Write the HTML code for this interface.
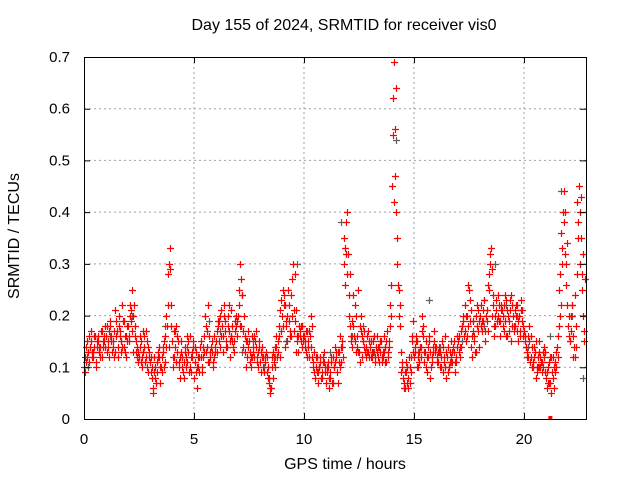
<!DOCTYPE html>
<html><head><meta charset="utf-8"><style>
html,body{margin:0;padding:0;background:#fff}
svg{display:block;font-family:"Liberation Sans",sans-serif}
</style></head><body>
<svg id="chart" width="640" height="480" viewBox="0 0 640 480"></svg>
<script>
const T0 = 0.0, STEP = 0.1;
const T0B = 0.05, T0C = 0.025, T0D = 0.075;
const seriesA = [
.10,.14,.13,.15,.12,.16,.14,.13,.17,.15,
.16,.14,.18,.15,.13,.17,.20,.15,.14,.16,
.18,.22,.25,.16,.14,.12,.15,.13,.17,.14,
.11,.08,.12,.09,.14,.10,.13,.16,.28,.33,
.15,.12,.18,.10,.13,.09,.14,.11,.16,.12,
.08,.13,.10,.15,.12,.20,.14,.11,.13,.16,
.15,.18,.20,.16,.19,.14,.17,.21,.15,.18,
.20,.30,.24,.16,.12,.15,.10,.14,.17,.13,
.11,.14,.09,.12,.07,.06,.13,.10,.15,.12,
.20,.24,.18,.22,.16,.30,.19,.15,.17,.14,
.16,.13,.15,.20,.11,.08,.12,.10,.09,.13,
.07,.10,.08,.12,.14,.09,.13,.11,.30,.38,
.32,.18,.14,.22,.16,.13,.20,.15,.12,.17,
.14,.12,.16,.13,.11,.15,.12,.14,.13,.18,
.45,.69,.40,.25,.13,.08,.06,.10,.07,.15,
.12,.16,.10,.14,.18,.13,.09,.15,.11,.17,
.14,.11,.13,.09,.16,.12,.10,.15,.13,.11,
.15,.12,.18,.22,.16,.25,.14,.19,.13,.21,
.20,.17,.23,.19,.28,.33,.22,.18,.24,.16,
.21,.17,.23,.19,.15,.20,.18,.22,.16,.19,
.17,.14,.12,.16,.10,.13,.09,.15,.11,.14,
.08,.10,.07,.12,.09,.14,.25,.36,.44,.30,
.18,.15,.22,.12,.28,.45,.35,.20];
const seriesB = [
.09,.12,.16,.13,.14,.11,.15,.12,.14,.18,
.13,.17,.15,.12,.19,.14,.16,.22,.13,.18,
.15,.19,.20,.13,.11,.16,.12,.14,.10,.12,
.09,.06,.10,.13,.07,.12,.15,.20,.14,.18,
.10,.14,.16,.08,.12,.11,.10,.13,.09,.14,
.11,.06,.12,.09,.16,.13,.22,.12,.10,.14,
.13,.19,.16,.22,.14,.18,.12,.15,.19,.16,
.25,.18,.14,.10,.17,.13,.12,.16,.11,.15,
.09,.12,.11,.08,.05,.10,.12,.14,.16,.23,
.25,.14,.20,.17,.27,.21,.13,.16,.18,.15,
.14,.17,.12,.18,.09,.10,.07,.12,.11,.10,
.09,.06,.11,.10,.12,.07,.16,.14,.33,.28,
.24,.15,.18,.13,.25,.11,.16,.14,.13,.15,
.12,.15,.11,.14,.13,.12,.16,.11,.15,.26,
.62,.56,.30,.18,.10,.06,.09,.08,.12,.19,
.14,.10,.13,.20,.11,.15,.12,.08,.14,.13,
.12,.14,.10,.12,.08,.14,.11,.13,.09,.16,
.13,.17,.20,.15,.26,.19,.12,.16,.18,.14,
.18,.21,.15,.26,.30,.20,.16,.21,.19,.22,
.18,.24,.16,.21,.22,.17,.20,.15,.23,.18,
.15,.12,.18,.10,.14,.08,.12,.10,.13,.09,
.06,.11,.05,.10,.13,.12,.20,.30,.40,.22,
.16,.20,.12,.14,.38,.30,.25,.15];
const seriesC = [
.12,.15,.11,.17,.13,.10,.16,.14,.12,.16,
.18,.12,.16,.14,.21,.12,.17,.14,.19,.12,
.16,.21,.13,.18,.12,.14,.10,.16,.12,.09,
.12,.05,.08,.11,.12,.09,.10,.14,.22,.29,
.12,.17,.13,.11,.15,.08,.12,.15,.10,.13,
.14,.10,.09,.12,.14,.18,.11,.13,.15,.12,
.17,.15,.21,.13,.17,.20,.15,.18,.13,.20,
.22,.27,.17,.13,.15,.11,.16,.12,.14,.10,
.13,.10,.12,.09,.08,.12,.11,.16,.13,.21,
.18,.22,.15,.19,.24,.17,.21,.13,.16,.18,
.15,.12,.17,.14,.10,.12,.09,.11,.08,.11,
.10,.08,.12,.07,.11,.13,.10,.15,.35,.32,
.20,.16,.24,.15,.14,.18,.12,.17,.14,.13,
.15,.13,.12,.16,.14,.11,.13,.15,.12,.22,
.55,.47,.35,.20,.09,.07,.11,.06,.10,.16,
.13,.15,.11,.12,.16,.10,.14,.13,.12,.15,
.11,.13,.12,.14,.10,.09,.13,.11,.15,.12,
.16,.14,.19,.17,.20,.23,.16,.15,.20,.17,
.22,.19,.17,.21,.25,.29,.18,.23,.20,.19,
.20,.19,.21,.17,.24,.18,.22,.19,.17,.21,
.16,.13,.15,.12,.11,.15,.10,.12,.09,.12,
.09,.07,.12,.08,.11,.16,.28,.33,.38,.26,
.20,.17,.16,.24,.42,.40,.28,.17];
const seriesD = [
.11,.13,.14,.12,.16,.15,.13,.17,.15,.14,
.15,.19,.13,.17,.16,.18,.13,.19,.16,.15,
.20,.17,.22,.15,.13,.11,.17,.11,.15,.13,
.10,.09,.07,.12,.10,.14,.11,.18,.30,.22,
.17,.11,.15,.12,.10,.13,.16,.09,.12,.15,
.09,.12,.14,.10,.13,.17,.16,.14,.11,.13,
.19,.14,.18,.20,.15,.22,.16,.14,.17,.19,
.18,.24,.20,.15,.14,.12,.13,.15,.12,.14,
.12,.09,.13,.10,.06,.08,.14,.12,.18,.17,
.22,.19,.25,.16,.20,.28,.16,.18,.15,.16,
.17,.14,.16,.12,.13,.09,.10,.08,.12,.09,
.11,.09,.07,.10,.13,.11,.14,.12,.26,.40,
.28,.19,.16,.20,.13,.17,.15,.13,.16,.12,
.13,.16,.14,.12,.15,.13,.11,.17,.14,.20,
.42,.64,.26,.22,.11,.09,.07,.12,.09,.13,
.15,.12,.14,.17,.13,.12,.16,.10,.13,.14,
.13,.10,.15,.11,.13,.10,.12,.14,.11,.14,
.14,.18,.16,.20,.18,.21,.17,.13,.22,.19,
.19,.23,.20,.17,.32,.24,.20,.19,.22,.21,
.22,.16,.20,.23,.18,.21,.17,.20,.21,.16,
.14,.16,.11,.14,.12,.10,.13,.11,.10,.13,
.07,.12,.09,.06,.10,.18,.22,.40,.32,.34,
.15,.22,.14,.18,.35,.43,.32,.27];
const T0G = 0.2, STEPG = 0.5;
const seriesGrey = [.10,.14,.16,.15,.20,.13,.12,.18,.11,.14,.12,.19,.17,.16,.13,.15,.10,.12,.15,.30,.14,.10,.13,.38,.16,.18,.13,.14,.54,.10,.13,.23,.14,.11,.15,.19,.18,.30,.22,.20,.14,.10,.16,.44,.20,.08];
const outlierT = [21.2];
const outlierV = [0.0];
const xTicks = [0,5,10,15,20];
const yTicks = [0,0.1,0.2,0.3,0.4,0.5,0.6,0.7];
const yTickLabels = ["0","0.1","0.2","0.3","0.4","0.5","0.6","0.7"];

const L=84,R=586,TOP=57,BOT=419,XMAX=22.82,YMAX=0.7;
const xs=t=>L+(R-L)*t/XMAX;
const ys=v=>BOT-(BOT-TOP)*v/YMAX;
const svg=document.getElementById('chart');
const NS='http://www.w3.org/2000/svg';
function mk(tag,a,parent){const e=document.createElementNS(NS,tag);for(const k in a)e.setAttribute(k,a[k]);(parent||svg).appendChild(e);return e;}

const grid=mk('g',{});


xTicks.forEach(t=>{if(t>0)mk('line',{x1:xs(t),x2:xs(t),y1:TOP,y2:BOT,stroke:'#a0a0a0','stroke-dasharray':'2,3'},grid);});
yTicks.forEach(v=>{if(v>0&&v<YMAX)mk('line',{x1:L,x2:R,y1:ys(v),y2:ys(v),stroke:'#a0a0a0','stroke-dasharray':'2,3'},grid);});

function plus(g,t,v,c){const x=Math.round(xs(t))+0.5,y=Math.round(ys(v))+0.5;mk('path',{d:`M${x-3.5} ${y}H${x+3.5}M${x} ${y-3.5}V${y+3.5}`,stroke:c,'stroke-width':1.2,fill:'none'},g);}
const gG=mk('g',{});


seriesGrey.forEach((v,i)=>plus(gG,T0G+STEPG*i,v,'#606060'));
const gA=mk('g',{});


seriesA.forEach((v,i)=>plus(gA,T0+STEP*i,v,'#ff0000'));
seriesB.forEach((v,i)=>plus(gA,T0B+STEP*i,v,'#ff0000'));
seriesC.forEach((v,i)=>plus(gA,T0C+STEP*i,v,'#ff0000'));
seriesD.forEach((v,i)=>plus(gA,T0D+STEP*i,v,'#ff0000'));
outlierT.forEach((t,i)=>{const r=mk('rect',{x:xs(t)-2,y:ys(outlierV[i])-3,width:4,height:4,fill:'#ff0000'});

});

const frame=mk('rect',{x:L+0.5,y:TOP+0.5,width:R-L,height:BOT-TOP,fill:'none',stroke:'#000'});


const axes=mk('g',{'font-size':15,fill:'#000'});


xTicks.forEach(t=>{const x=xs(t)+0.5;mk('path',{d:`M${x} ${BOT}v-6M${x} ${TOP}v6`,stroke:'#000'},axes);
const tx=mk('text',{x:xs(t),y:444,'text-anchor':'middle'},axes);tx.textContent=t;

});
yTicks.forEach((v,i)=>{const y=ys(v)+0.5;mk('path',{d:`M${L} ${y}h6M${R} ${y}h-6`,stroke:'#000'},axes);
const tx=mk('text',{x:70,y:ys(v)+5,'text-anchor':'end'},axes);tx.textContent=yTickLabels[i];

});
</script>
<div style="position:absolute;left:0;top:0;width:640px;height:480px;pointer-events:none;font-family:'Liberation Sans',sans-serif;font-size:16px;color:#000">
<div style="position:absolute;left:0;width:688px;top:17px;text-align:center">Day 155 of 2024, SRMTID for receiver vis0</div>
<div style="position:absolute;left:94px;width:502px;top:456px;text-align:center">GPS time / hours</div>
<div style="position:absolute;left:-85px;top:227px;width:200px;text-align:center;transform:rotate(-90deg)">SRMTID / TECUs</div>
</div>
</body></html>
